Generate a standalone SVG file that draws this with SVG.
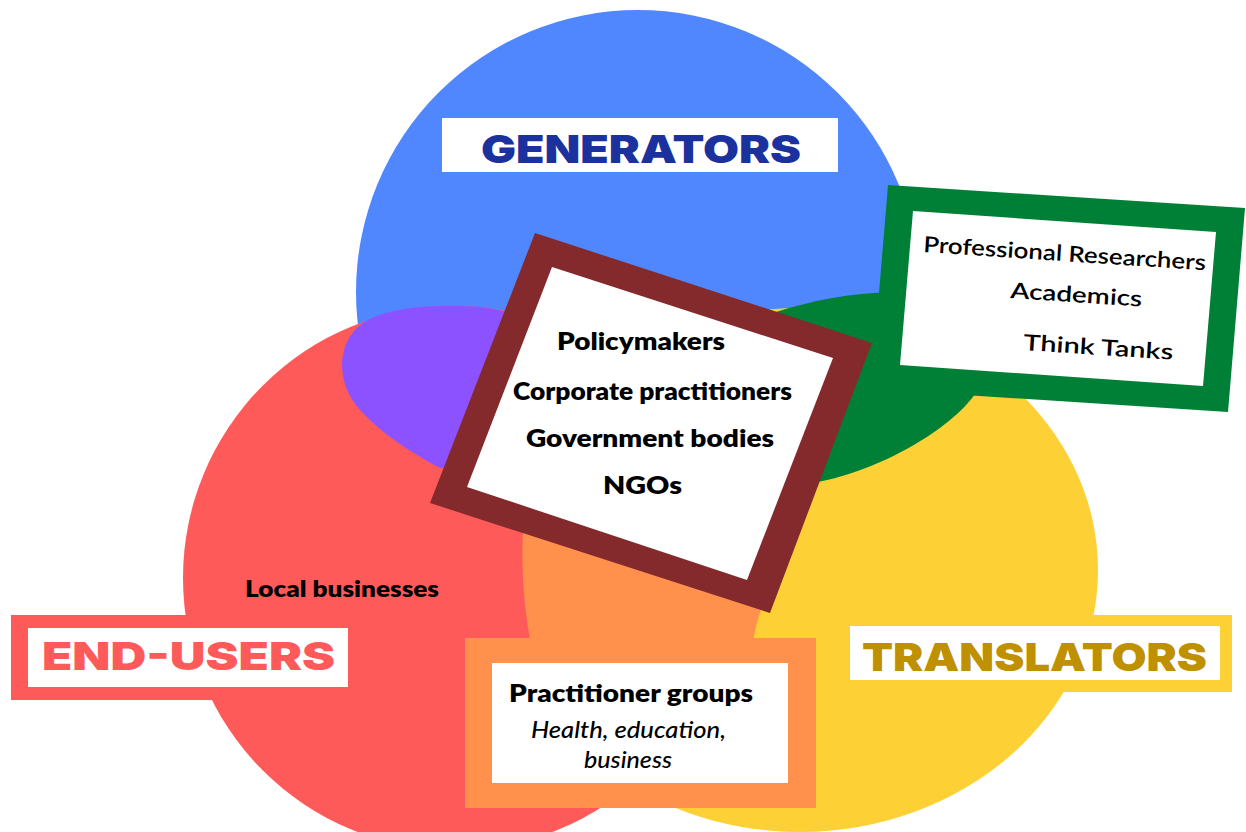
<svg xmlns="http://www.w3.org/2000/svg" width="1246" height="832" viewBox="0 0 1246 832">
<style>
.h{font-family:Inter,"Liberation Sans",sans-serif;font-weight:900;font-size:39px;}
.b{font-family:Lato,"Liberation Sans",sans-serif;font-weight:800;font-size:24px;fill:#000;}
.r{font-family:Lato,"Liberation Sans",sans-serif;font-weight:600;font-size:22px;fill:#000;}
.i{font-family:Lato,"Liberation Sans",sans-serif;font-weight:500;font-style:italic;font-size:23px;fill:#000;}
.w{fill:#fff;}
</style>
<rect width="1246" height="832" fill="#fff"/>
<g id="circles">
<circle id="generators-circle" cx="638" cy="292" r="282" fill="#5087FE"/>
<ellipse id="translators-circle" cx="800" cy="570" rx="298" ry="262" fill="#FDD036"/>
<circle id="end-users-circle" cx="455" cy="578" r="272" fill="#FF5A5A"/>
<path id="overlap-purple" d="M520,312 L503,311 C470,303 400,303 368,320 C336,337 334,382 360,410 C382,434 410,452 440,468 L470,470 Z" fill="#8C52FF"/>
<path id="overlap-green" d="M760,335 L776,312 C810,301 850,293 893,292 L985,385 L975,394 C950,430 880,470 818,482 L805,475 Z" fill="#008037"/>
<path id="overlap-orange" d="M523,530 C521,570 524,610 532,650 L752,650 C754,630 760,612 765,598 Z" fill="#FF914D"/>
</g>
<g id="connectors"></g>
<g id="generators-label">
<rect x="442" y="118" width="396" height="54" class="w"/>
<text class="h" x="481" y="163" textLength="320" lengthAdjust="spacingAndGlyphs" fill="#1B319E">GENERATORS</text>
</g>
<g id="end-users-label">
<rect x="11" y="615" width="354" height="85" fill="#FF5A5A"/>
<rect x="28" y="628" width="320" height="59" class="w"/>
<text class="h" x="42" y="670" textLength="293" lengthAdjust="spacingAndGlyphs" fill="#FF5A5A">END-USERS</text>
</g>
<g id="translators-label">
<rect x="838" y="615" width="394" height="77" fill="#FDD036"/>
<rect x="850" y="626" width="370" height="54" class="w"/>
<text class="h" x="862" y="671" textLength="345" lengthAdjust="spacingAndGlyphs" fill="#BF9000">TRANSLATORS</text>
</g>
<g id="local-businesses">
<text class="b" x="245" y="597" textLength="194" lengthAdjust="spacingAndGlyphs" style="font-size:22px">Local businesses</text>
</g>
<g id="center-box">
<polygon points="535,233 872,343 770,613 430,503" fill="#842A2D"/>
<polygon points="552,267 833,358 747,580 467,487" class="w"/>
<text class="b" x="557" y="350" textLength="168" lengthAdjust="spacingAndGlyphs">Policymakers</text>
<text class="b" x="513" y="400" textLength="279" lengthAdjust="spacingAndGlyphs">Corporate practitioners</text>
<text class="b" x="526" y="447" textLength="248" lengthAdjust="spacingAndGlyphs">Government bodies</text>
<text class="b" x="603" y="494" textLength="79" lengthAdjust="spacingAndGlyphs">NGOs</text>
</g>
<g id="generators-box">
<polygon points="888,185 1245,208 1228,412 871,389" fill="#008037"/>
<polygon points="913,211 1216,232 1203,386 900,365" class="w"/>
<text class="r" x="923" y="252" transform="rotate(3.7 923 252)" textLength="283" lengthAdjust="spacingAndGlyphs">Professional Researchers</text>
<text class="r" x="1010" y="298" transform="rotate(3.7 1010 298)" textLength="132" lengthAdjust="spacingAndGlyphs">Academics</text>
<text class="r" x="1023" y="350" transform="rotate(3.7 1023 350)" textLength="150" lengthAdjust="spacingAndGlyphs">Think Tanks</text>
</g>
<g id="practitioner-box">
<rect x="465" y="638" width="351" height="170" fill="#FF914D"/>
<rect x="492" y="663" width="296" height="120" class="w"/>
<text class="b" x="509" y="702" textLength="244" lengthAdjust="spacingAndGlyphs">Practitioner groups</text>
<text class="i" x="531" y="738" textLength="195" lengthAdjust="spacingAndGlyphs">Health, education,</text>
<text class="i" x="584" y="768" textLength="88" lengthAdjust="spacingAndGlyphs">business</text>
</g>
</svg>
